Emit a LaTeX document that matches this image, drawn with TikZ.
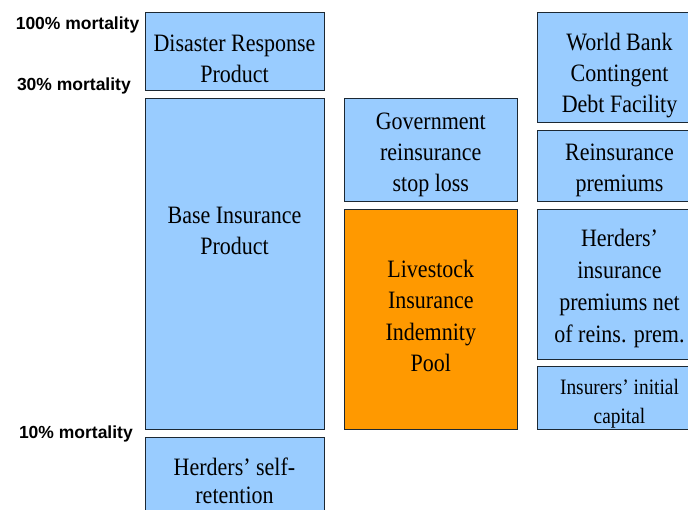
\documentclass[tikz,border=0pt]{standalone}
\usepackage{fontspec}
\setmainfont{Liberation Serif}[FakeStretch=0.88]
\newfontfamily\lblfont{Liberation Sans}
\definecolor{boxblue}{HTML}{99CCFF}
\definecolor{boxorange}{HTML}{FF9900}
\definecolor{edgecol}{HTML}{1C2833}
\begin{document}
\begin{tikzpicture}[x=1bp,y=-1bp,
  box/.style={draw=edgecol, line width=1bp, fill=boxblue, inner sep=0pt, rectangle},
  poolbox/.style={box, fill=boxorange},
  txt/.style={inner sep=0pt, align=center, anchor=north, font=\fontsize{25bp}{#1}\selectfont},
  txt/.default=31bp,
  smalltxt/.style={inner sep=0pt, align=center, anchor=north, font=\fontsize{22bp}{29bp}\selectfont},
  lbl/.style={inner sep=0pt, anchor=base east, font=\lblfont\bfseries\fontsize{17.5bp}{20bp}\selectfont}]
\useasboundingbox (0,0) rectangle (688,510);
% boxes
\node[box, minimum width=179bp, minimum height=78.4bp] (dr) at (234.5,51.5) {};
\node[box, minimum width=179bp, minimum height=330.6bp] (base) at (234.5,264) {};
\node[box, minimum width=179bp, minimum height=102.3bp] (self) at (234.5,488.85) {};
\node[box, minimum width=173bp, minimum height=102.6bp] (gov) at (430.8,150) {};
\node[poolbox, minimum width=173bp, minimum height=220bp] (pool) at (430.8,319.3) {};
\node[box, minimum width=165bp, minimum height=110bp] (wb) at (619.5,67.3) {};
\node[box, minimum width=165bp, minimum height=71bp] (rp) at (619.5,165.8) {};
\node[box, minimum width=165bp, minimum height=149.7bp] (hp) at (619.5,284.15) {};
\node[box, minimum width=165bp, minimum height=62.6bp] (ic) at (619.5,398) {};
% texts
\node[txt] (tdr) at (234.5,51.5-21.7) {\strut Disaster Response\\Product};
\node[txt] (tbase) at (234.5,223.3-21.7) {\strut Base Insurance\\Product};
\node[txt=28bp] (tself) at (234.5,475-19.6) {\strut Herders’ self-\\retention};
\node[txt] (tgov) at (430.8,129.5-21.7) {\strut Government\\reinsurance\\stop loss};
\node[txt=31.4bp] (tpool) at (430.8,277.3-21.98) {\strut Livestock\\Insurance\\Indemnity\\Pool};
\node[txt] (twb) at (619.5,50-21.7) {\strut World Bank\\Contingent\\Debt Facility};
\node[txt] (trp) at (619.5,160-21.7) {\strut Reinsurance\\premiums};
\node[txt=31.7bp] (thp) at (619.5,246.7-22.19) {\strut Herders’\\insurance\\premiums net\\of reins. prem.};
\node[smalltxt] (tic) at (619.5,394.3-20.3) {\strut Insurers’ initial\\capital};
% mortality labels
\node[lbl] (m100) at (139.5,29.5) {100\% mortality};
\node[lbl] (m30) at (131,91) {30\% mortality};
\node[lbl] (m10) at (133,438) {10\% mortality};
\end{tikzpicture}
\end{document}
